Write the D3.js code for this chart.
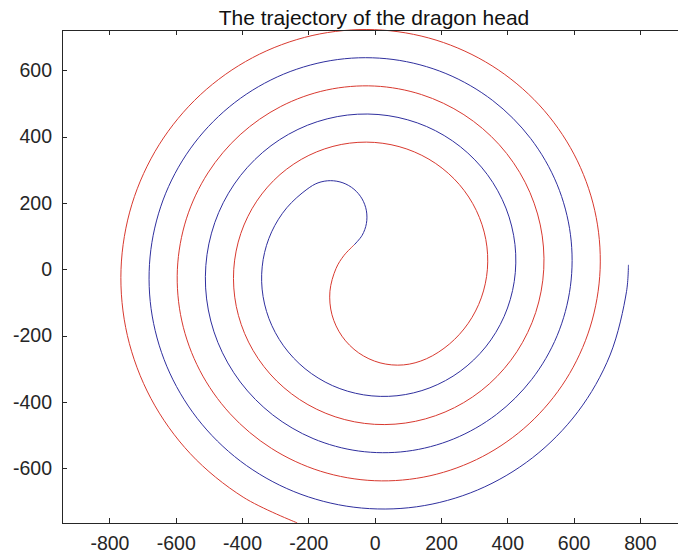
<!DOCTYPE html>
<html>
<head>
<meta charset="utf-8">
<script src="https://cdn.jsdelivr.net/npm/d3@7"></script>
<style>
  html, body { margin: 0; padding: 0; background: #fff; }
  svg { display: block; }
  .axis path, .axis line { stroke: #262626; stroke-width: 1; shape-rendering: crispEdges; }
  .axis text { font-family: "Liberation Sans", Arial, sans-serif; font-size: 19.5px; fill: #262626; }
  .title { font-family: "Liberation Sans", Arial, sans-serif; font-size: 21px; fill: #111; }
</style>
</head>
<body>
<svg id="chart" width="678" height="557"></svg>
<script>
// Incoming spiral (red): polar angle in degrees (unwrapped) and radius, from the outer end inward
const inAngle  = [1693, 1680, 1665, 1650, 1635, 1620, 1605, 1590, 1575, 1560, 1545, 1530, 1515, 1500, 1485, 1470, 1455, 1440, 1425, 1410, 1395, 1380, 1365, 1350, 1335, 1320, 1305, 1290, 1275, 1260, 1245, 1230, 1215, 1200, 1185, 1170, 1155, 1140, 1125, 1110, 1095, 1080, 1065, 1050, 1035, 1020, 1005, 990, 975, 960, 945, 930, 915, 900, 885, 870, 855, 840, 825, 810, 795, 780, 765, 750, 735, 720, 705, 690, 675, 660];
const inRadius = [799.5, 793.3, 786.3, 779.2, 772.1, 765.0, 757.9, 750.8, 743.8, 736.7, 729.6, 722.5, 715.4, 708.3, 701.3, 694.2, 687.1, 680.0, 672.9, 665.8, 658.8, 651.7, 644.6, 637.5, 630.4, 623.3, 616.3, 609.2, 602.1, 595.0, 587.9, 580.8, 573.8, 566.7, 559.6, 552.5, 545.4, 538.3, 531.3, 524.2, 517.1, 510.0, 502.9, 495.8, 488.8, 481.7, 474.6, 467.5, 460.4, 453.3, 446.3, 439.2, 432.1, 425.0, 417.9, 410.8, 403.8, 396.7, 389.6, 382.5, 375.4, 368.3, 361.3, 354.2, 347.1, 340.0, 332.9, 325.8, 318.8, 311.7];

// Turn-around S curve: large arc (red) then small arc (blue), x/y points
const turnArcLarge = [[155.9, -269.9], [87.2, -288.3], [16.2, -282.1], [-48.3, -252.0], [-98.6, -201.7], [-128.7, -137.2], [-134.9, -66.2], [-116.5, 2.5], [-92.2, 42.1], [-62.5, 72.9]];
const turnArcSmall = [[-62.5, 72.9], [-37.9, 102.2], [-24.9, 138.1], [-24.9, 176.3], [-37.9, 212.2], [-62.5, 241.5], [-95.6, 260.6], [-133.2, 267.2], [-170.8, 260.6], [-204.3, 241.1]];

// Outgoing spiral (blue): polar angle in degrees (unwrapped) and radius, from the turn outward
const outAngle  = [865, 880, 895, 910, 925, 940, 955, 970, 985, 1000, 1015, 1030, 1045, 1060, 1075, 1090, 1105, 1120, 1135, 1150, 1165, 1180, 1195, 1210, 1225, 1240, 1255, 1270, 1285, 1300, 1315, 1330, 1345, 1360, 1375, 1390, 1405, 1420, 1435, 1450, 1465, 1480, 1495, 1510, 1525, 1540, 1555, 1570, 1585, 1600, 1615, 1630, 1645, 1660, 1675, 1690, 1705, 1720, 1735, 1750, 1765, 1780, 1795, 1801];
const outRadius = [323.5, 330.6, 337.6, 344.7, 351.8, 358.9, 366.0, 373.1, 380.1, 387.2, 394.3, 401.4, 408.5, 415.6, 422.6, 429.7, 436.8, 443.9, 451.0, 458.1, 465.1, 472.2, 479.3, 486.4, 493.5, 500.6, 507.6, 514.7, 521.8, 528.9, 536.0, 543.1, 550.1, 557.2, 564.3, 571.4, 578.5, 585.6, 592.6, 599.7, 606.8, 613.9, 621.0, 628.1, 635.1, 642.2, 649.3, 656.4, 663.5, 670.6, 677.6, 684.7, 691.8, 698.9, 706.0, 713.1, 720.1, 727.2, 734.3, 741.4, 748.5, 755.6, 762.6, 765.5];

const xTicks = [-800, -600, -400, -200, 0, 200, 400, 600, 800];
const yTicks = [-600, -400, -200, 0, 200, 400, 600];
const xDomain = [-943, 939];
const yDomain = [-765, 723];
const titleText = "The trajectory of the dragon head";

const svg = d3.select("#chart");
const plot = { left: 62, right: 686, top: 29.5, bottom: 523 };

const x = d3.scaleLinear().domain(xDomain).range([plot.left, plot.right]);
const y = d3.scaleLinear().domain(yDomain).range([plot.bottom, plot.top]);

const polarToXY = (angles, radii) => angles.map((a, i) => {
  const t = a * Math.PI / 180;
  return [radii[i] * Math.cos(t), radii[i] * Math.sin(t)];
});

const redPath = polarToXY(inAngle, inRadius).concat(turnArcLarge.slice(1));
const bluePath = turnArcSmall.concat(polarToXY(outAngle, outRadius));

const line = d3.line()
  .x(d => x(d[0]))
  .y(d => y(d[1]))
  .curve(d3.curveCatmullRom.alpha(0.5));

svg.append("defs").append("clipPath").attr("id", "plotclip")
  .append("rect")
  .attr("x", plot.left).attr("y", plot.top - 1)
  .attr("width", plot.right - plot.left).attr("height", plot.bottom - plot.top + 2);

const g = svg.append("g").attr("clip-path", "url(#plotclip)");
g.append("path").datum(redPath)
  .attr("d", line).attr("fill", "none")
  .attr("stroke", "#d8392f").attr("stroke-width", 1);
g.append("path").datum(bluePath)
  .attr("d", line).attr("fill", "none")
  .attr("stroke", "#2f2f9e").attr("stroke-width", 1);

// Box axes with inward ticks
svg.append("g").attr("class", "axis")
  .attr("transform", `translate(0,${plot.bottom})`)
  .call(d3.axisBottom(x).tickValues(xTicks).tickSizeInner(-5).tickSizeOuter(0).tickPadding(13))
  .call(s => s.selectAll("text").attr("dy", "0.71em").text(d => String(d)));

svg.append("g").attr("class", "axis")
  .attr("transform", `translate(0,${plot.top})`)
  .call(d3.axisTop(x).tickValues(xTicks).tickSizeInner(-5).tickSizeOuter(0).tickFormat(""));

svg.append("g").attr("class", "axis")
  .attr("transform", `translate(${plot.left},0)`)
  .call(d3.axisLeft(y).tickValues(yTicks).tickSizeInner(-5).tickSizeOuter(0).tickPadding(10))
  .call(s => s.selectAll("text").text(d => String(d)));

svg.append("g").attr("class", "axis")
  .attr("transform", `translate(${plot.right},0)`)
  .call(d3.axisRight(y).tickValues(yTicks).tickSizeInner(-5).tickSizeOuter(0).tickFormat(""));

svg.append("text").attr("class", "title")
  .attr("x", (x(xDomain[0]) + x(xDomain[1])) / 2)
  .attr("y", 25)
  .attr("text-anchor", "middle")
  .text(titleText);
</script>
</body>
</html>
